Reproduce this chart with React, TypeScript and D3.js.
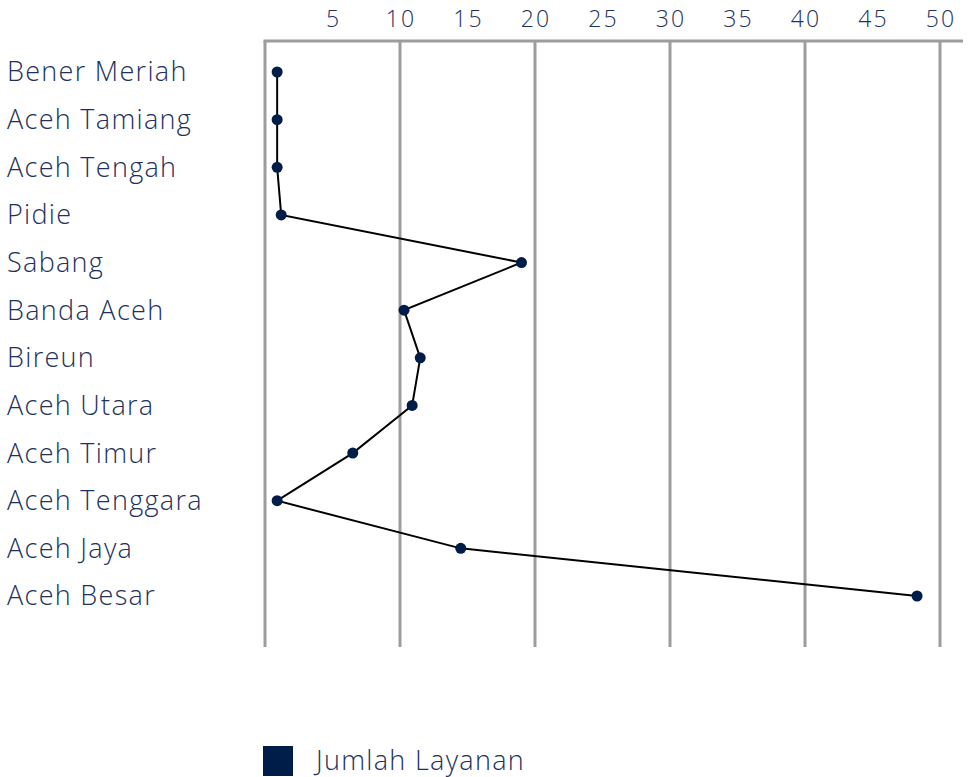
import React, { useEffect, useRef } from 'react';
import * as d3 from 'd3';

const regions = [
    "Bener Meriah",
    "Aceh Tamiang",
    "Aceh Tengah",
    "Pidie",
    "Sabang",
    "Banda Aceh",
    "Bireun",
    "Aceh Utara",
    "Aceh Timur",
    "Aceh Tenggara",
    "Aceh Jaya",
    "Aceh Besar"
];
const layanan = [0.9, 0.9, 0.9, 1.2, 19, 10.3, 11.5, 10.9, 6.5, 0.9, 14.5, 48.3];
const tickLabels = [5, 10, 15, 20, 25, 30, 35, 40, 45, 50];
const gridValues = [0, 10, 20, 30, 40, 50];
const seriesName = "Jumlah Layanan";

const width = 973;
const height = 777;
const textColor = "#22315c";
const navy = "#001c48";
const gridColor = "#9d9d9d";
const font = "'Open Sans', Lato, sans-serif";

const App: React.FC = () => {
    const svgRef = useRef<SVGSVGElement>(null);

    useEffect(() => {
        if (!svgRef.current) return;
        const svg = d3.select(svgRef.current);
        svg.selectAll("*").remove();

        const plotTop = 41;
        const plotBottom = 647;

        const x = d3.scaleLinear().domain([0, 50]).range([265, 940]);
        const y = d3.scalePoint<string>().domain(regions).range([72, 596]);

        // grid
        svg.append("g")
            .selectAll("line")
            .data(gridValues)
            .join("line")
            .attr("x1", d => x(d))
            .attr("x2", d => x(d))
            .attr("y1", plotTop)
            .attr("y2", plotBottom)
            .attr("stroke", gridColor)
            .attr("stroke-width", 3);

        svg.append("line")
            .attr("x1", x(0) - 1.5)
            .attr("x2", 963)
            .attr("y1", plotTop)
            .attr("y2", plotTop)
            .attr("stroke", gridColor)
            .attr("stroke-width", 3);

        // top tick labels
        svg.append("g")
            .selectAll("text")
            .data(tickLabels)
            .join("text")
            .attr("x", d => x(d) + 1)
            .attr("y", 27)
            .attr("text-anchor", "middle")
            .style("font-family", font)
            .style("font-weight", 300)
            .style("font-size", "23px")
            .style("letter-spacing", "2px")
            .style("fill", textColor)
            .text(d => d);

        // category labels
        svg.append("g")
            .selectAll("text")
            .data(regions)
            .join("text")
            .attr("x", 7)
            .attr("y", d => (y(d) ?? 0))
            .attr("dy", "0.35em")
            .style("font-family", font)
            .style("font-weight", 300)
            .style("font-size", "27px")
            .style("letter-spacing", "1.3px")
            .style("fill", textColor)
            .text(d => d);

        // line
        const pts = regions.map((r, i) => [x(layanan[i]), y(r) ?? 0] as [number, number]);
        svg.append("path")
            .attr("d", d3.line()(pts))
            .attr("fill", "none")
            .attr("stroke", "#000")
            .attr("stroke-width", 2);

        svg.append("g")
            .selectAll("circle")
            .data(pts)
            .join("circle")
            .attr("cx", d => d[0])
            .attr("cy", d => d[1])
            .attr("r", 5.5)
            .attr("fill", navy);

        // legend
        const legend = svg.append("g").attr("transform", "translate(263,746)");
        legend.append("rect")
            .attr("width", 30)
            .attr("height", 30)
            .attr("fill", navy);
        legend.append("text")
            .attr("x", 53)
            .attr("y", 15)
            .attr("dy", "0.35em")
            .style("font-family", font)
            .style("font-weight", 300)
            .style("font-size", "27px")
            .style("letter-spacing", "1.3px")
            .style("fill", textColor)
            .text(seriesName);
    }, []);

    return (
        <svg
            ref={svgRef}
            width={width}
            height={height}
            style={{ position: 'absolute', left: 0, top: 0, background: '#fff' }}
        />
    );
};

export default App;
